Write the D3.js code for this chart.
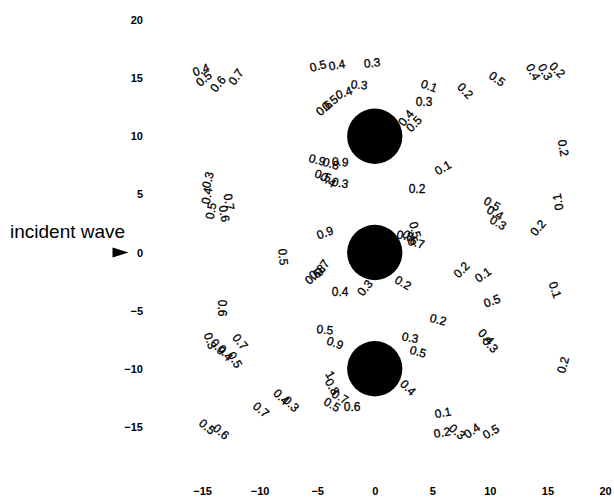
<!DOCTYPE html>
<html>
<head>
<meta charset="utf-8">
<script src="https://cdn.jsdelivr.net/npm/d3@7.9.0/dist/d3.min.js"></script>
<style>
  body { margin: 0; background: #fff; }
  svg { display: block; }
  .tick text { font-family: "Liberation Sans", Arial, sans-serif; font-size: 11px; font-weight: bold; fill: #000; }
  .clabel { font-family: "Liberation Sans", Arial, sans-serif; font-size: 12px; fill: #000; stroke: #000; stroke-width: 0.3px; }
</style>
</head>
<body>
<svg width="614" height="497"></svg>
<script>
// scatterer centres (data units) and radius
const cylX = [0, 0, 0];
const cylY = [10, 0, -10];
const cylR = 2.4;

const xTicks = [-15, -10, -5, 0, 5, 10, 15, 20];
const yTicks = [-15, -10, -5, 0, 5, 10, 15, 20];

// contour labels: value, position (data units), angle
const labelText = [
  '0.4','0.5','0.6','0.7',
  '0.3','0.4','0.5','0.7','0.6',
  '0.5','0.4','0.3','0.3','0.4','0.5','0.6',
  '0.1','0.3','0.4','0.5','0.2','0.5','0.4','0.3','0.2','0.2',
  '0.9','0.8','0.9','0.5','0.4','0.3',
  '0.1','0.2','0.5','0.4','0.3','0.1','0.2',
  '0.9','0.5','0.8','0.6','0.7',
  '0.5','0.6','0.8','0.7','0.4','0.3','0.2',
  '0.2','0.1','0.1','0.5','0.2',
  '0.6','0.7','0.3','0.9','0.4','0.5',
  '0.4','0.3','0.7','0.5','0.6',
  '0.5','0.9','0.3','0.5','0.4',
  '1','0.8','0.7','0.5','0.6',
  '0.4','0.3','0.2',
  '0.1','0.2','0.3','0.4','0.5'
];
const labelX = [
  -15.09,-14.83,-13.61,-12.05,
  -14.48,-14.57,-14.22,-12.66,-13.09,
  -4.93,-3.28,-0.23,-1.36,-2.67,-3.88,-4.40,
  4.72,4.28,2.72,3.41,7.85,10.62,13.75,14.80,15.84,16.36,
  -5.01,-3.80,-3.01,-4.49,-4.06,-3.01,
  5.93,3.67,10.19,10.45,10.71,15.93,14.19,
  -4.32,3.50,2.63,3.07,3.59,
  -7.97,-5.36,-5.01,-4.58,-3.01,-0.84,2.46,
  7.54,9.41,15.66,10.19,5.50,
  -13.26,-11.70,-14.31,-13.61,-13.00,-12.14,
  -8.12,-7.27,-9.88,-14.57,-13.35,
  -4.32,-3.45,3.07,3.76,2.89,
  -3.88,-3.71,-3.01,-3.71,-1.97,
  9.67,10.02,16.36,
  5.93,5.85,7.15,8.45,10.10
];
const labelY = [
  15.70,14.93,14.50,15.10,
  6.24,4.87,3.58,4.35,3.33,
  16.04,16.13,16.30,14.41,13.72,12.86,12.43,
  14.32,12.95,11.57,11.06,13.90,14.93,15.53,15.53,15.70,8.99,
  7.96,7.62,7.79,6.59,6.24,5.98,
  7.27,5.47,4.18,3.40,2.55,4.35,2.12,
  1.69,1.94,1.43,1.26,0.83,
  -0.38,-2.10,-1.67,-1.32,-3.39,-3.04,-2.61,
  -1.50,-1.93,-3.22,-4.18,-5.79,
  -4.79,-7.68,-7.60,-8.12,-8.63,-9.24,
  -12.43,-13.04,-13.53,-15.00,-15.42,
  -6.65,-7.79,-7.34,-8.55,-11.64,
  -10.52,-11.55,-12.42,-13.10,-13.28,
  -7.26,-7.95,-9.68,
  -13.79,-15.50,-15.42,-15.34,-15.42
];
const labelAngle = [
  -20,-40,-50,-55,
  -75,-80,-80,80,80,
  -15,-10,-5,5,-20,-40,-40,
  20,0,-50,-45,45,35,60,60,45,80,
  15,15,5,20,35,10,
  -30,0,30,30,30,-100,-50,
  -20,75,10,40,15,
  85,-40,-40,-55,0,-50,30,
  -45,-35,70,-20,15,
  90,50,70,50,50,60,
  45,45,40,40,40,
  5,20,10,15,45,
  60,60,30,30,0,
  45,45,-75,
  -10,-10,40,-35,-30
];

const svg = d3.select('svg');
const xs = d3.scaleLinear().domain([-20, 20]).range([144.5, 605]);
const ys = d3.scaleLinear().domain([-20, 20]).range([485, 20]);

// axes: tick labels only
svg.append('g')
  .attr('transform', `translate(${xs(-20)},0)`)
  .call(d3.axisLeft(ys).tickValues(yTicks).tickSize(0).tickPadding(1.5))
  .call(g => g.select('.domain').remove());

svg.append('g')
  .attr('transform', `translate(0,${ys(-20)})`)
  .call(d3.axisBottom(xs).tickValues(xTicks).tickSize(0).tickPadding(2))
  .call(g => g.select('.domain').remove());

// cylinders
const rPx = xs(cylR) - xs(0);
svg.selectAll('circle.cyl')
  .data(cylX.map((x, i) => ({ x, y: cylY[i] })))
  .join('circle')
  .attr('class', 'cyl')
  .attr('cx', d => xs(d.x))
  .attr('cy', d => ys(d.y))
  .attr('r', rPx)
  .attr('fill', '#000');

// contour labels
svg.selectAll('text.clabel')
  .data(labelText.map((t, i) => ({ t, x: labelX[i], y: labelY[i], a: labelAngle[i] })))
  .join('text')
  .attr('class', 'clabel')
  .attr('text-anchor', 'middle')
  .attr('dominant-baseline', 'central')
  .attr('transform', d => `translate(${xs(d.x)},${ys(d.y)}) rotate(${d.a})`)
  .text(d => d.t);

// incident wave annotation
svg.append('text')
  .attr('x', 10)
  .attr('y', 238)
  .style('font-family', '"Liberation Sans", Arial, sans-serif')
  .style('font-size', '19px')
  .text('incident wave');

const ax = xs(-20) - 16, ay = ys(0);
svg.append('path')
  .attr('d', `M${ax - 16},${ay - 5}L${ax},${ay}L${ax - 16},${ay + 5}Z`)
  .attr('fill', '#000');
</script>
</body>
</html>
